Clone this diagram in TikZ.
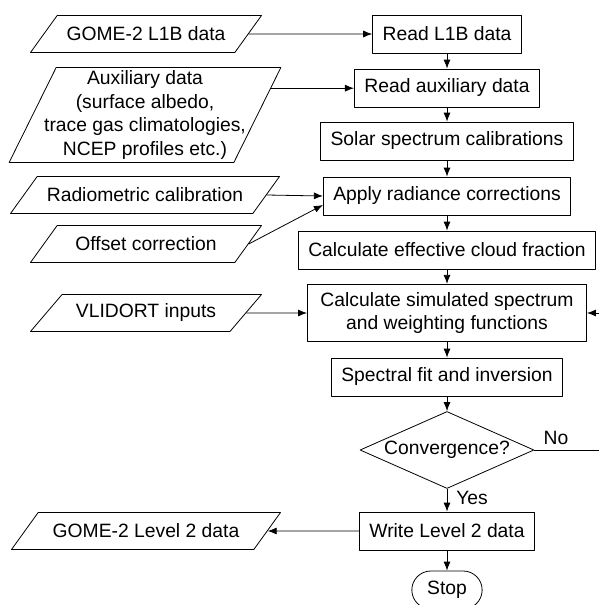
\documentclass[tikz,border=0pt]{standalone}
\usepackage{fontspec}
\setmainfont{Liberation Sans}
\usetikzlibrary{shapes.geometric,shapes.misc,arrows.meta}
\begin{document}
\begin{tikzpicture}[x=1pt,y=-1pt,line width=0.8pt,line join=round,>={Latex[length=9pt,width=7pt]}]
            \tikzset{every node/.style={font=\fontsize{19.3pt}{23.5pt}\selectfont},
                procbox/.style={draw,rectangle,minimum height=38pt,inner xsep=10pt,inner ysep=8pt,align=center},
                iobox/.style={draw,trapezium,trapezium left angle=38,trapezium right angle=142,
                    trapezium stretches body,minimum height=37pt,minimum width=231pt,inner xsep=2pt,align=center},
                decbox/.style={draw,diamond,aspect=2.26,minimum width=174pt,minimum height=77pt,inner sep=0pt},
                endbox/.style={draw,rounded rectangle,minimum width=77pt,minimum height=38pt},
                flow/.style={->}}
            \useasboundingbox (0,0) rectangle (598,605);
            %% main chain
            \node[procbox] (readl1b) at (447,34) {Read L1B data};
            \node[procbox] (readaux) at (447,88) {Read auxiliary data};
            \node[procbox] (solar) at (447,141) {Solar spectrum calibrations};
            \node[procbox] (apply) at (447,196) {Apply radiance corrections};
            \node[procbox] (cloud) at (447,250) {Calculate effective cloud fraction};
            \node[procbox,inner xsep=13pt] (simul) at (447,313) {Calculate simulated spectrum\\and weighting functions};
            \node[procbox] (fit) at (447,377) {Spectral fit and inversion};
            \node[decbox] (conv) at (447,450) {Convergence?};
            \node[procbox] (write) at (447,531) {Write Level 2 data};
            \node[endbox] (stop) at (447,590) {Stop};
            %% inputs and output
            \node[iobox] (gome) at (146,34) {GOME-2 L1B data};
            \node[iobox,minimum width=269pt,minimum height=95pt,trapezium left angle=62,trapezium right angle=118,inner xsep=-12pt,inner ysep=0pt] (aux) at (145,115)
                {Auxiliary data\\(surface albedo,\\trace gas climatologies,\\NCEP profiles etc.)};
            \node[iobox,minimum width=269pt] (radio) at (145,195) {Radiometric calibration};
            \node[iobox] (offset) at (146,244) {Offset correction};
            \node[iobox] (vlidort) at (146,313) {VLIDORT inputs};
            \node[iobox,minimum width=269pt] (level2) at (146,531) {GOME-2 Level 2 data};
            \node (yeslbl) at (472,498) {Yes};
            \node (nolbl) at (556,438) {No};
            %% connectors
            \foreach \a/\b in {readl1b/readaux,readaux/solar,solar/apply,apply/cloud,cloud/simul,simul/fit,fit/conv,conv/write,write/stop}
                \draw[flow] (\a.south) -- (\b.north);
            \draw[flow] (gome.east) -- (readl1b.west);
            \draw[flow] (aux.12) -- (aux.12 -| readaux.west);
            \draw[flow] (radio.east) -- (apply.west);
            \draw[flow] (offset.east) -- ([yshift=-9pt]apply.west);
            \draw[flow] (vlidort.east) -- (simul.west);
            \draw[flow] (conv.east) -- ++(66,0) |- (simul.east);
            \draw[flow] (write.west) -- (level2.east);
        \end{tikzpicture}
\end{document}
